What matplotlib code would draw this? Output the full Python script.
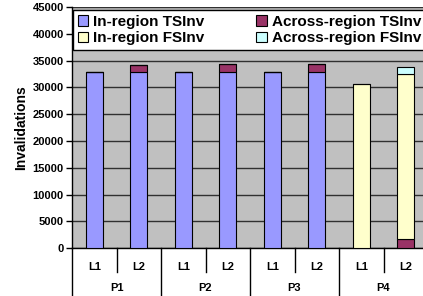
import numpy as np
import matplotlib
matplotlib.use("Agg")
import matplotlib.pyplot as plt

plt.rcParams['font.family'] = ['Liberation Sans', 'DejaVu Sans']
plt.rcParams['font.weight'] = 'bold'

# data
cats = ["L1", "L2", "L1", "L2", "L1", "L2", "L1", "L2"]
groups = ["P1", "P2", "P3", "P4"]
in_ts = [32800, 32800, 32800, 32800, 32800, 32800, 0, 0]
across_ts = [0, 1450, 0, 1550, 0, 1550, 0, 1650]
in_fs = [0, 0, 0, 0, 0, 0, 30600, 30800]
across_fs = [0, 0, 0, 0, 0, 0, 0, 1400]

labels = ["In-region TSInv", "Across-region TSInv", "In-region FSInv", "Across-region FSInv"]
colors = ["#9999FF", "#993366", "#FFFFCC", "#CCFFFF"]

W, H = 423, 296
fig = plt.figure(figsize=(W / 100, H / 100), dpi=100)
ax = fig.add_axes([72 / W, (H - 248.3) / H, (428 - 72) / W, (248.3 - 7) / H])
ax.set_facecolor("#C0C0C0")

x = np.arange(len(cats))
series = [in_ts, across_ts, in_fs, across_fs]
bottom = np.zeros(len(cats))
handles = []
for vals, lab, col in zip(series, labels, colors):
    vals = np.array(vals, dtype=float)
    b = ax.bar(x, vals, 0.39, bottom=bottom, color=col, edgecolor="black",
               linewidth=0.8, label=lab, zorder=3)
    handles.append(b)
    bottom += vals

ax.set_ylim(0, 45000)
ax.set_xlim(-0.5, 7.5)
ax.set_yticks(np.arange(0, 45001, 5000))
ax.tick_params(axis='y', direction='out', length=4, width=1, labelsize=8, pad=2)
ax.set_xticks([])
ax.yaxis.grid(True, color="#303030", linewidth=1, zorder=1)
ax.set_axisbelow(True)
for s in ["top", "right"]:
    ax.spines[s].set_visible(False)
ax.spines["left"].set_linewidth(1)
ax.spines["bottom"].set_linewidth(1)
ax.set_ylabel("Invalidations", fontsize=10, fontweight='bold', labelpad=3)

# two-level category axis
tr = ax.get_xaxis_transform()
for i, c in enumerate(cats):
    ax.text(i, -0.077, c, transform=tr, ha='center', va='center', fontsize=8)
for g, name in enumerate(groups):
    ax.text(2 * g + 0.5, -0.165, name, transform=tr, ha='center', va='center', fontsize=8)
for i in range(len(cats) + 1):
    x0 = i - 0.5
    y1 = -0.2 if i % 2 == 0 else -0.1
    ax.plot([x0, x0], [0, y1], transform=tr, color="black", lw=1, clip_on=False)

# legend filled row by row like the original
order = [0, 2, 1, 3]
leg = ax.legend(handles=[handles[k] for k in order], labels=[labels[k] for k in order],
                ncol=2, loc='lower left',
                bbox_to_anchor=(0.003, 0.822, 0.99, 0.166), mode="expand",
                fontsize=11, frameon=True, fancybox=False, borderpad=0.3,
                handlelength=0.7, handleheight=0.7, handletextpad=0.3,
                labelspacing=0.15, borderaxespad=0, columnspacing=1.0)
leg.get_frame().set_edgecolor("black")
leg.get_frame().set_facecolor("white")
leg.get_frame().set_alpha(1)
leg.set_zorder(5)

fig.savefig("out.png", dpi=100)
